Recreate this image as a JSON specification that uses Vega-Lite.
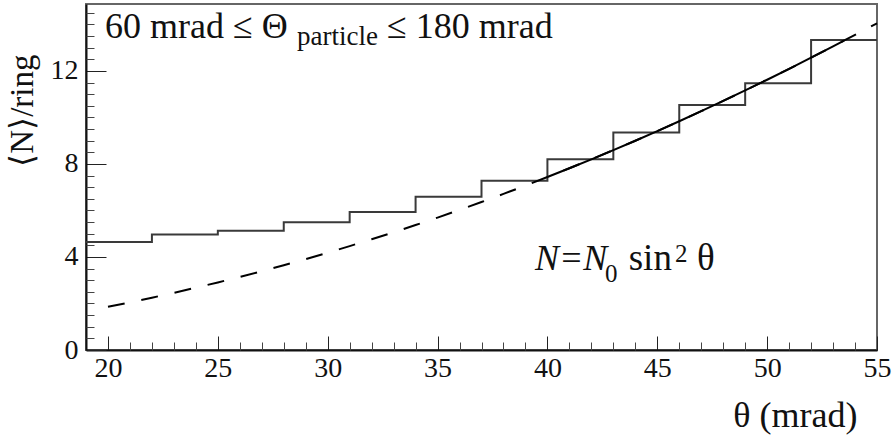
{
  "$schema": "https://vega.github.io/schema/vega-lite/v6.json",
  "width": 791,
  "height": 346,
  "autosize": "none",
  "padding": {"left": 86, "top": 4, "right": 15, "bottom": 89},
  "background": "white",
  "config": {
    "font": "Liberation Serif",
    "view": {"stroke": "#666666", "strokeWidth": 2}
  },
  "datasets": {
    "hist": [
      {"theta": 19, "n": 4.64},
      {"theta": 22, "n": 4.97},
      {"theta": 25, "n": 5.13},
      {"theta": 28, "n": 5.49},
      {"theta": 31, "n": 5.94},
      {"theta": 34, "n": 6.59},
      {"theta": 37, "n": 7.28},
      {"theta": 40, "n": 8.2},
      {"theta": 43, "n": 9.35},
      {"theta": 46, "n": 10.54},
      {"theta": 49, "n": 11.47},
      {"theta": 52, "n": 13.33},
      {"theta": 55, "n": 13.33}
    ],
    "fit": [
      {"theta": 20, "n": 1.86}, {"theta": 21, "n": 2.05}, {"theta": 22, "n": 2.25},
      {"theta": 23, "n": 2.459}, {"theta": 24, "n": 2.678}, {"theta": 25, "n": 2.906},
      {"theta": 26, "n": 3.143}, {"theta": 27, "n": 3.389}, {"theta": 28, "n": 3.645},
      {"theta": 29, "n": 3.91}, {"theta": 30, "n": 4.184}, {"theta": 31, "n": 4.468},
      {"theta": 32, "n": 4.761}, {"theta": 33, "n": 5.063}, {"theta": 34, "n": 5.374},
      {"theta": 35, "n": 5.695}, {"theta": 36, "n": 6.025}, {"theta": 37, "n": 6.364},
      {"theta": 38, "n": 6.713}, {"theta": 39, "n": 7.071}, {"theta": 40, "n": 7.438},
      {"theta": 41, "n": 7.815}, {"theta": 42, "n": 8.201}, {"theta": 43, "n": 8.596},
      {"theta": 44, "n": 9.0}, {"theta": 45, "n": 9.414}, {"theta": 46, "n": 9.837},
      {"theta": 47, "n": 10.27}, {"theta": 48, "n": 10.711}, {"theta": 49, "n": 11.163},
      {"theta": 50, "n": 11.623}, {"theta": 51, "n": 12.092}, {"theta": 52, "n": 12.571},
      {"theta": 53, "n": 13.059}, {"theta": 54, "n": 13.556}, {"theta": 55, "n": 14.05}
    ],
    "fitsolid": [
      {"theta": 40, "n": 7.438}, {"theta": 41, "n": 7.815}, {"theta": 42, "n": 8.201},
      {"theta": 43, "n": 8.596}, {"theta": 44, "n": 9.0}, {"theta": 45, "n": 9.414},
      {"theta": 46, "n": 9.837}, {"theta": 47, "n": 10.27}, {"theta": 48, "n": 10.711},
      {"theta": 49, "n": 11.163}, {"theta": 50, "n": 11.623}, {"theta": 51, "n": 12.092},
      {"theta": 52, "n": 12.571}, {"theta": 53, "n": 13.059}, {"theta": 53.5, "n": 13.307}
    ]
  },
  "resolve": {"axis": {"x": "independent", "y": "independent"}},
  "layer": [
    {
      "data": {"name": "hist"},
      "mark": {"type": "line", "interpolate": "step-after", "color": "#3a3a3a", "strokeWidth": 2},
      "encoding": {
        "x": {
          "field": "theta", "type": "quantitative",
          "scale": {"domain": [19, 55], "nice": false, "zero": false},
          "axis": {
            "orient": "bottom",
            "values": [20, 25, 30, 35, 40, 45, 50, 55],
            "tickSize": -14, "tickColor": "#222", "tickWidth": 1,
            "domainColor": "#111", "domainWidth": 2,
            "grid": false,
            "labelFont": "Liberation Serif", "labelFontSize": 28, "labelColor": "#111",
            "labelPadding": 18, "labelFlush": false, "labelOverlap": false,
            "title": "θ (mrad)",
            "titleFont": "Liberation Serif", "titleFontSize": 36, "titleFontWeight": "normal", "titleColor": "#111",
            "titleAnchor": null, "titleAlign": "right", "titleBaseline": "alphabetic",
            "titleX": 771, "titleY": 76
          }
        },
        "y": {
          "field": "n", "type": "quantitative",
          "scale": {"domain": [0, 14.88], "nice": false},
          "axis": {
            "orient": "left",
            "values": [0, 4, 8, 12],
            "tickSize": -20, "tickColor": "#222", "tickWidth": 1,
            "domainColor": "#111", "domainWidth": 2,
            "grid": false,
            "labelFont": "Liberation Serif", "labelFontSize": 28, "labelColor": "#111",
            "labelPadding": 28, "labelFlush": false, "labelOverlap": false,
            "title": "⟨N⟩/ring",
            "titleFont": "Liberation Serif", "titleFontSize": 33, "titleFontWeight": "normal", "titleColor": "#111",
            "titleAnchor": null, "titleAlign": "right", "titleAngle": -90, "titleBaseline": "alphabetic",
            "titleX": -54, "titleY": 50
          }
        }
      }
    },
    {
      "data": {"name": "fit"},
      "mark": {"type": "line", "color": "#000", "strokeWidth": 2, "strokeDash": [17, 17]},
      "encoding": {
        "x": {
          "field": "theta", "type": "quantitative",
          "axis": {
            "orient": "bottom",
            "values": [21, 22, 23, 24, 26, 27, 28, 29, 31, 32, 33, 34, 36, 37, 38, 39, 41, 42, 43, 44, 46, 47, 48, 49, 51, 52, 53, 54],
            "tickSize": -8, "tickColor": "#444", "tickWidth": 1,
            "domain": false, "labels": false, "grid": false, "title": null
          }
        },
        "y": {
          "field": "n", "type": "quantitative",
          "axis": {
            "orient": "left",
            "values": [0.5, 1, 1.5, 2, 2.5, 3, 3.5, 4.5, 5, 5.5, 6, 6.5, 7, 7.5, 8.5, 9, 9.5, 10, 10.5, 11, 11.5, 12.5, 13, 13.5, 14, 14.5],
            "tickSize": -8, "tickColor": "#444", "tickWidth": 1,
            "domain": false, "labels": false, "grid": false, "title": null
          }
        }
      }
    },
    {
      "data": {"name": "fitsolid"},
      "mark": {"type": "line", "color": "#000", "strokeWidth": 2},
      "encoding": {
        "x": {"field": "theta", "type": "quantitative", "axis": null},
        "y": {"field": "n", "type": "quantitative", "axis": null}
      }
    },
    {
      "data": {"values": [{"t": "60 mrad ≤ Θ", "px": 19.865, "py": 13.418}, {"t": "≤ 180 mrad", "px": 32.7, "py": 13.418}]},
      "mark": {"type": "text", "align": "left", "baseline": "alphabetic", "font": "Liberation Serif", "fontSize": 36, "color": "#111"},
      "encoding": {
        "x": {"field": "px", "type": "quantitative", "axis": null},
        "y": {"field": "py", "type": "quantitative", "axis": null},
        "text": {"field": "t"}
      }
    },
    {
      "data": {"values": [{"t": "particle", "px": 28.6, "py": 13.117}]},
      "mark": {"type": "text", "align": "left", "baseline": "alphabetic", "font": "Liberation Serif", "fontSize": 27, "color": "#111"},
      "encoding": {
        "x": {"field": "px", "type": "quantitative", "axis": null},
        "y": {"field": "py", "type": "quantitative", "axis": null},
        "text": {"field": "t"}
      }
    },
    {
      "data": {"values": [{"t": "N=N", "px": 39.435, "py": 3.44}]},
      "mark": {"type": "text", "align": "left", "baseline": "alphabetic", "font": "Liberation Serif", "fontStyle": "italic", "fontSize": 36, "color": "#111"},
      "encoding": {
        "x": {"field": "px", "type": "quantitative", "axis": null},
        "y": {"field": "py", "type": "quantitative", "axis": null},
        "text": {"field": "t"}
      }
    },
    {
      "data": {"values": [{"t": "0", "px": 42.62, "py": 2.925}, {"t": "2", "px": 45.806, "py": 3.785}]},
      "mark": {"type": "text", "align": "left", "baseline": "alphabetic", "font": "Liberation Serif", "fontSize": 25, "color": "#111"},
      "encoding": {
        "x": {"field": "px", "type": "quantitative", "axis": null},
        "y": {"field": "py", "type": "quantitative", "axis": null},
        "text": {"field": "t"}
      }
    },
    {
      "data": {"values": [{"t": "sin", "px": 43.7, "py": 3.44}, {"t": "θ", "px": 46.808, "py": 3.44}]},
      "mark": {"type": "text", "align": "left", "baseline": "alphabetic", "font": "Liberation Serif", "fontSize": 37, "color": "#111"},
      "encoding": {
        "x": {"field": "px", "type": "quantitative", "axis": null},
        "y": {"field": "py", "type": "quantitative", "axis": null},
        "text": {"field": "t"}
      }
    }
  ]
}
